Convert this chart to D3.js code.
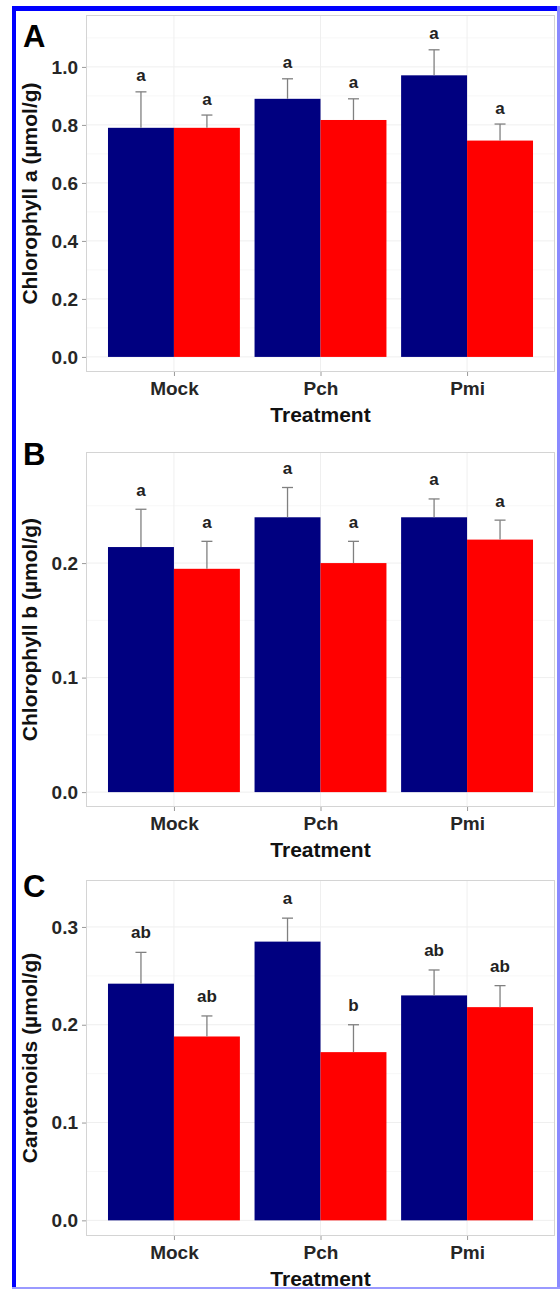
<!DOCTYPE html>
<html>
<head>
<meta charset="utf-8">
<script src="https://cdn.jsdelivr.net/npm/d3@7"></script>
<style>
  body { margin: 0; background: #fff; }
  text { font-family: "Liberation Sans", Arial, sans-serif; font-weight: bold; }
</style>
</head>
<body>
<div id="chart"></div>
<script>
// categories and series
const treatments = ['Mock', 'Pch', 'Pmi'];
const groups = ['G1', 'G2'];

// panel A: chlorophyll a
const chlA_g1 = [0.790, 0.890, 0.971];
const chlA_g1_se = [0.124, 0.069, 0.088];
const chlA_g2 = [0.790, 0.817, 0.746];
const chlA_g2_se = [0.044, 0.073, 0.057];
const chlA_g1_sig = ['a', 'a', 'a'];
const chlA_g2_sig = ['a', 'a', 'a'];
const chlA_ticks = [0, 0.2, 0.4, 0.6, 0.8, 1.0];

// panel B: chlorophyll b
const chlB_g1 = [0.214, 0.240, 0.240];
const chlB_g1_se = [0.033, 0.026, 0.016];
const chlB_g2 = [0.195, 0.200, 0.2205];
const chlB_g2_se = [0.024, 0.019, 0.017];
const chlB_g1_sig = ['a', 'a', 'a'];
const chlB_g2_sig = ['a', 'a', 'a'];
const chlB_ticks = [0, 0.1, 0.2];

// panel C: carotenoids
const car_g1 = [0.242, 0.285, 0.230];
const car_g1_se = [0.032, 0.024, 0.026];
const car_g2 = [0.188, 0.172, 0.218];
const car_g2_se = [0.021, 0.028, 0.022];
const car_g1_sig = ['ab', 'a', 'ab'];
const car_g2_sig = ['ab', 'b', 'ab'];
const car_ticks = [0, 0.1, 0.2, 0.3];

const colors = { G1: '#000080', G2: '#ff0000' };

const W = 560, H = 1289;
const svg = d3.select('#chart').append('svg')
  .attr('width', W).attr('height', H);

// blue frame
svg.append('line').attr('x1', 14).attr('x2', 14).attr('y1', 6).attr('y2', H).attr('stroke', '#0000ff').attr('stroke-width', 4);
svg.append('line').attr('x1', 12).attr('x2', 560).attr('y1', 8.5).attr('y2', 8.5).attr('stroke', '#0000ff').attr('stroke-width', 5);
svg.append('line').attr('x1', 558.5).attr('x2', 558.5).attr('y1', 6).attr('y2', H).attr('stroke', '#8a8aff').attr('stroke-width', 3);
svg.append('line').attr('x1', 12).attr('x2', 560).attr('y1', 1288).attr('y2', 1288).attr('stroke', '#9a9aff').attr('stroke-width', 2);

const panels = [
  { tag: 'A', title: 'Chlorophyll a (\u00b5mol/g)', top: 15, bottom: 372, domain: [-0.052, 1.179],
    ticks: chlA_ticks, g1: chlA_g1, g1se: chlA_g1_se, g2: chlA_g2, g2se: chlA_g2_se,
    sig1: chlA_g1_sig, sig2: chlA_g2_sig, lab: 10.5 },
  { tag: 'B', title: 'Chlorophyll b (\u00b5mol/g)', top: 452, bottom: 807, domain: [-0.013, 0.297],
    ticks: chlB_ticks, g1: chlB_g1, g1se: chlB_g1_se, g2: chlB_g2, g2se: chlB_g2_se,
    sig1: chlB_g1_sig, sig2: chlB_g2_sig, lab: 13.5 },
  { tag: 'C', title: 'Carotenoids (\u00b5mol/g)', top: 880, bottom: 1236, domain: [-0.016, 0.348],
    ticks: car_ticks, g1: car_g1, g1se: car_g1_se, g2: car_g2, g2se: car_g2_se,
    sig1: car_g1_sig, sig2: car_g2_sig, lab: 14 }
];

const left = 86, right = 555;

// ggplot-style discrete scale with 0.6 expansion
const xScale = d3.scalePoint().domain(treatments).range([0, 1]);
const xLin = d3.scaleLinear().domain([0.4, 3.6]).range([left, right]);
const xc = t => xLin(treatments.indexOf(t) + 1);
const unit = xLin(2) - xLin(1);
const barW = unit * 0.45;
const sub = d3.scaleBand().domain(groups).range([-barW, barW]);

panels.forEach(p => {
  const g = svg.append('g');
  const y = d3.scaleLinear().domain(p.domain).range([p.bottom, p.top]);

  // panel background + grid
  g.append('rect').attr('x', left).attr('y', p.top).attr('width', right - left).attr('height', p.bottom - p.top)
    .attr('fill', '#fff');
  const minor = [];
  for (let i = 0; i < p.ticks.length - 1; i++) minor.push((p.ticks[i] + p.ticks[i + 1]) / 2);
  minor.push(p.ticks[p.ticks.length - 1] + (p.ticks[1] - p.ticks[0]) / 2);
  g.selectAll('.minor').data(minor.filter(v => v < p.domain[1])).enter().append('line')
    .attr('x1', left).attr('x2', right).attr('y1', d => y(d)).attr('y2', d => y(d))
    .attr('stroke', '#f7f7f7').attr('stroke-width', 1);
  g.selectAll('.major').data(p.ticks).enter().append('line')
    .attr('x1', left).attr('x2', right).attr('y1', d => y(d)).attr('y2', d => y(d))
    .attr('stroke', '#efefef').attr('stroke-width', 1);
  g.selectAll('.vgrid').data(treatments).enter().append('line')
    .attr('x1', d => xc(d)).attr('x2', d => xc(d)).attr('y1', p.top).attr('y2', p.bottom)
    .attr('stroke', '#efefef').attr('stroke-width', 1);

  // bars
  const rows = [];
  treatments.forEach((t, i) => {
    rows.push({ t, grp: 'G1', v: p.g1[i], se: p.g1se[i], sig: p.sig1[i] });
    rows.push({ t, grp: 'G2', v: p.g2[i], se: p.g2se[i], sig: p.sig2[i] });
  });

  g.selectAll('.bar').data(rows).enter().append('rect')
    .attr('x', d => xc(d.t) + sub(d.grp))
    .attr('width', sub.bandwidth())
    .attr('y', d => y(d.v))
    .attr('height', d => y(0) - y(d.v))
    .attr('fill', d => colors[d.grp]);

  // error bars (upper only)
  const cx = d => xc(d.t) + sub(d.grp) + sub.bandwidth() / 2;
  g.selectAll('.err').data(rows).enter().append('line')
    .attr('x1', cx).attr('x2', cx)
    .attr('y1', d => y(d.v)).attr('y2', d => y(d.v + d.se))
    .attr('stroke', '#808080').attr('stroke-width', 1.3);
  g.selectAll('.cap').data(rows).enter().append('line')
    .attr('x1', d => cx(d) - 5.5).attr('x2', d => cx(d) + 5.5)
    .attr('y1', d => y(d.v + d.se)).attr('y2', d => y(d.v + d.se))
    .attr('stroke', '#808080').attr('stroke-width', 1.3);

  // significance letters
  g.selectAll('.sig').data(rows).enter().append('text')
    .attr('x', cx).attr('y', d => y(d.v + d.se) - p.lab)
    .attr('text-anchor', 'middle').attr('font-size', 17).attr('fill', '#222')
    .text(d => d.sig);

  // panel border
  g.append('rect').attr('x', left + 0.5).attr('y', p.top + 0.5)
    .attr('width', right - left - 1).attr('height', p.bottom - p.top - 1)
    .attr('fill', 'none').attr('stroke', '#d4d4d4').attr('stroke-width', 1);

  // y axis
  const yAxis = d3.axisLeft(y).tickValues(p.ticks).tickFormat(d3.format('.1f')).tickSize(4).tickPadding(4);
  const ya = g.append('g').attr('transform', `translate(${left},0)`).call(yAxis);
  ya.select('.domain').remove();
  ya.selectAll('line').attr('stroke', '#9a9a9a');
  ya.selectAll('text').attr('font-size', 19).attr('fill', '#262626').attr('font-family', '"Liberation Sans", Arial, sans-serif');

  // x axis
  const xAxis = d3.axisBottom(xLin).tickValues([1, 2, 3]).tickFormat(d => treatments[d - 1]).tickSize(4).tickPadding(6);
  const xa = g.append('g').attr('transform', `translate(0,${p.bottom})`).call(xAxis);
  xa.select('.domain').remove();
  xa.selectAll('line').attr('stroke', '#9a9a9a');
  xa.selectAll('text').attr('font-size', 19).attr('fill', '#262626').attr('font-family', '"Liberation Sans", Arial, sans-serif');

  // titles
  g.append('text').attr('x', (left + right) / 2).attr('y', p.bottom + 50)
    .attr('text-anchor', 'middle').attr('font-size', 21).attr('fill', '#111').text('Treatment');
  g.append('text')
    .attr('transform', `translate(37,${(p.top + p.bottom) / 2}) rotate(-90)`)
    .attr('text-anchor', 'middle').attr('font-size', 21).attr('fill', '#111').text(p.title);
  g.append('text').attr('x', 23).attr('y', p.top + (p.tag === 'A' ? 32 : 13) + (p.tag === 'C' ? 4 : 0))
    .attr('font-size', 31).attr('fill', '#000').text(p.tag);
});
</script>
</body>
</html>
